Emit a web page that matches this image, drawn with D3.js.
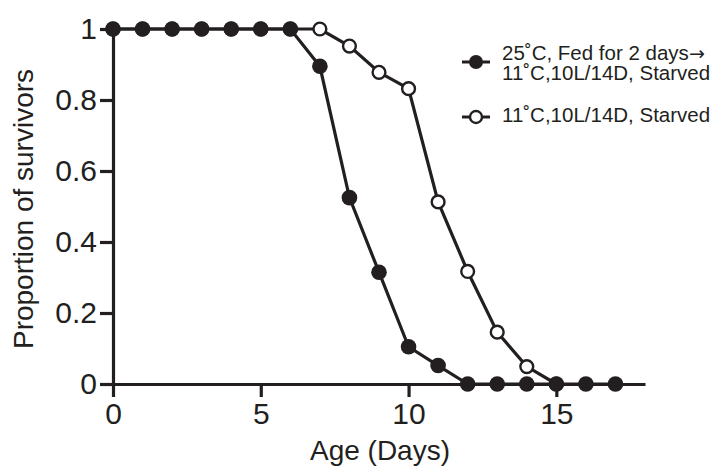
<!DOCTYPE html>
<html>
<head>
<meta charset="utf-8">
<script src="https://cdn.jsdelivr.net/npm/d3@7"></script>
<style>
  html, body { margin: 0; padding: 0; background: #fff; }
  svg { display: block; font-family: "Liberation Sans", Arial, sans-serif; }
</style>
</head>
<body>
<svg id="chart" width="719" height="467"></svg>
<script>
// 데이터: 생존 비율 (일령별)
const fedDays = [0, 1, 2, 3, 4, 5, 6, 7, 8, 9, 10, 11, 12, 13, 14, 15, 16, 17];
const fedValues = [1, 1, 1, 1, 1, 1, 1, 0.895, 0.525, 0.315, 0.105, 0.052, 0, 0, 0, 0, 0, 0];
const starvedDays = [0, 1, 2, 3, 4, 5, 6, 7, 8, 9, 10, 11, 12, 13, 14, 15];
const starvedValues = [1, 1, 1, 1, 1, 1, 1, 1, 0.952, 0.878, 0.832, 0.513, 0.317, 0.146, 0.049, 0];
const xTicks = [0, 5, 10, 15];
const yTicks = [0, 0.2, 0.4, 0.6, 0.8, 1];
const legendLabels = [
    ["25˚C, Fed for 2 days", "11˚C,10L/14D, Starved"],
    ["11˚C,10L/14D, Starved"]
];

const svg = d3.select('#chart');
const ink = '#231f20';

// 스케일 (축 범위)
const x = d3.scaleLinear().domain([0, 18]).range([113, 645]);
const y = d3.scaleLinear().domain([0, 1]).range([384, 29]);

// x축
const xAxis = svg.append('g')
    .attr('transform', `translate(0,${y(0)})`)
    .call(d3.axisBottom(x).tickValues(xTicks).tickFormat(d3.format('d'))
        .tickSize(13).tickSizeOuter(0).tickPadding(6));

// y축
const yAxis = svg.append('g')
    .attr('transform', `translate(${x(0)},0)`)
    .call(d3.axisLeft(y).tickValues(yTicks).tickFormat(d => d === 0 || d === 1 ? d3.format('d')(d) : d3.format('.1f')(d))
        .tickSize(13).tickSizeOuter(0).tickPadding(3));

[xAxis, yAxis].forEach(a => {
    a.select('.domain').attr('stroke', ink).attr('stroke-width', 3.2);
    a.selectAll('.tick line').attr('stroke', ink).attr('stroke-width', 3.2);
    a.selectAll('.tick text').attr('fill', ink)
        .style('font-size', '30px').style('font-family', '"Liberation Sans", Arial, sans-serif');
});

// 축 제목
svg.append('text')
    .attr('x', 380).attr('y', 460)
    .attr('text-anchor', 'middle')
    .style('font-size', '28px').attr('fill', ink)
    .text('Age (Days)');

svg.append('text')
    .attr('transform', 'translate(33,209) rotate(-90)')
    .attr('text-anchor', 'middle')
    .style('font-size', '28px').attr('fill', ink)
    .text('Proportion of survivors');

// 선 그리기
const line = d3.line().x(d => x(d[0])).y(d => y(d[1]));
const fedPts = fedDays.map((d, i) => [d, fedValues[i]]);
const starvedPts = starvedDays.map((d, i) => [d, starvedValues[i]]);

// 흰 원 시리즈 (먼저 그려서 검은 점 아래에)
svg.append('path').datum(starvedPts)
    .attr('d', line).attr('fill', 'none')
    .attr('stroke', ink).attr('stroke-width', 3.2);
svg.append('g').selectAll('circle').data(starvedPts).join('circle')
    .attr('cx', d => x(d[0])).attr('cy', d => y(d[1]))
    .attr('r', 6.4).attr('fill', '#fff')
    .attr('stroke', ink).attr('stroke-width', 2.4);

// 검은 점 시리즈
svg.append('path').datum(fedPts)
    .attr('d', line).attr('fill', 'none')
    .attr('stroke', ink).attr('stroke-width', 3.2);
svg.append('g').selectAll('circle').data(fedPts).join('circle')
    .attr('cx', d => x(d[0])).attr('cy', d => y(d[1]))
    .attr('r', 7.8).attr('fill', ink);

// 범례
const legendRows = [
    { cy: 62, filled: true, lines: legendLabels[0], baseline: 60, arrow: true },
    { cy: 117, filled: false, lines: legendLabels[1], baseline: 122, arrow: false }
];
const legend = svg.append('g');
legendRows.forEach(row => {
    legend.append('line')
        .attr('x1', 462).attr('x2', 490)
        .attr('y1', row.cy).attr('y2', row.cy)
        .attr('stroke', ink).attr('stroke-width', 3);
    legend.append('circle')
        .attr('cx', 476).attr('cy', row.cy)
        .attr('r', row.filled ? 7 : 6)
        .attr('fill', row.filled ? ink : '#fff')
        .attr('stroke', ink).attr('stroke-width', row.filled ? 0 : 2.4);
    // 여러 줄 라벨은 한 text 안에 tspan으로
    const txt = legend.append('text')
        .attr('y', row.baseline)
        .style('font-size', '20.5px').attr('fill', ink);
    row.lines.forEach((t, i) => {
        txt.append('tspan')
            .attr('x', 502).attr('dy', i === 0 ? 0 : 20)
            .text(t);
        // 첫 줄 끝의 화살표는 더 큰 글꼴로
        if (row.arrow && i === 0) {
            txt.append('tspan')
                .style('font-family', '"DejaVu Sans", sans-serif')
                .style('font-size', '19px')
                .text('→');
        }
    });
});
</script>
</body>
</html>
